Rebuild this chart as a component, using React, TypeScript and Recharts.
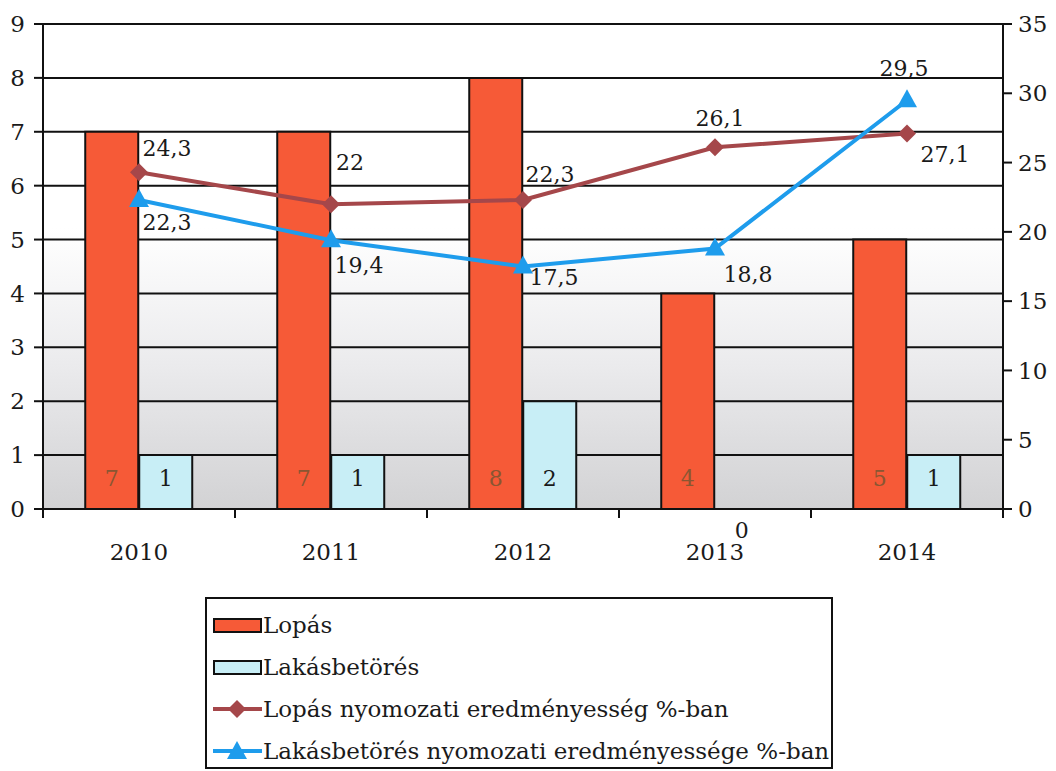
import {
  Bar,
  CartesianGrid,
  ComposedChart,
  LabelList,
  Legend,
  Line,
  XAxis,
  YAxis,
} from 'recharts';

const years = ['2010', '2011', '2012', '2013', '2014'];
const lopas = [7, 7, 8, 4, 5];
const lakasbetores = [1, 1, 2, 0, 1];
const lopasPct = [24.3, 22, 22.3, 26.1, 27.1];
const lakasPct = [22.3, 19.4, 17.5, 18.8, 29.5];
const leftTicks = [0, 1, 2, 3, 4, 5, 6, 7, 8, 9];
const rightTicks = [0, 5, 10, 15, 20, 25, 30, 35];

// label offsets (dx, dy) from each point, like the excel layout
const lopasPctOffsets = [
  [28, -24],
  [19, -42],
  [27, -25],
  [5, -29],
  [38, 21],
];
const lakasPctOffsets = [
  [28, 23],
  [28, 25],
  [31, 11],
  [33, 26],
  [-3, -32],
];

const data = years.map((year, i) => ({
  year,
  lopas: lopas[i],
  lakasbetores: lakasbetores[i],
  lopasPct: lopasPct[i],
  lakasPct: lakasPct[i],
}));

const font = '"DejaVu Serif", "Liberation Serif", serif';
const red = '#F65A37';
const cyan = '#C8EEF6';
const darkRed = '#A5474A';
const blue = '#1E9CEC';

const fmt = (v: any) => String(v).replace('.', ',');

const Diamond = (props: any) => {
  const { cx, cy, fill } = props;
  if (cx == null || cy == null) return null;
  const r = 9;
  return (
    <path
      d={`M${cx},${cy - r}L${cx + r},${cy}L${cx},${cy + r}L${cx - r},${cy}Z`}
      fill={fill ?? darkRed}
    />
  );
};

const Triangle = (props: any) => {
  const { cx, cy, fill } = props;
  if (cx == null || cy == null) return null;
  return (
    <path
      d={`M${cx},${cy - 11}L${cx + 10},${cy + 7}L${cx - 10},${cy + 7}Z`}
      fill={fill ?? blue}
    />
  );
};

const lineLabel = (offsets: number[][]) => (props: any) => {
  const { x, y, value, index } = props;
  const [dx, dy] = offsets[index] ?? [0, -20];
  return (
    <text
      x={x + dx}
      y={y + dy}
      textAnchor="middle"
      dominantBaseline="central"
      fontFamily={font}
      fontSize={22}
      fill="#1a1a1a"
    >
      {fmt(value)}
    </text>
  );
};

const labelText = (x: number, y: number, value: any, color: string) => (
  <text
    x={x}
    y={y}
    textAnchor="middle"
    dominantBaseline="central"
    fontFamily={font}
    fontSize={22}
    fill={color}
  >
    {value}
  </text>
);

// lopás labels; a zero-height lakásbetörés bar gets no rect, so its "0" is drawn here
const lopasLabel = (props: any) => {
  const { x, y, width, height, value, index } = props;
  const other = lakasbetores[index];
  return (
    <g>
      {labelText(x + width / 2, y + height - 31, value, '#8a5632')}
      {other === 0 && labelText(x + width * 1.5 + 1, y + height + 21, other, '#1a1a1a')}
    </g>
  );
};

const lakasLabel = (props: any) => {
  const { x, y, width, height, value } = props;
  if (!height) return null;
  return labelText(x + width / 2, y + height - 31, value, '#1a1a1a');
};

const XTick = (props: any) => {
  const { x, y, payload, index } = props;
  const half = payload?.offset || 96;
  return (
    <g>
      <line x1={x - half} y1={y} x2={x - half} y2={y + 9} stroke="#111" strokeWidth={2} />
      {index === years.length - 1 && (
        <line x1={x + half} y1={y} x2={x + half} y2={y + 9} stroke="#111" strokeWidth={2} />
      )}
      <text
        x={x}
        y={y + 43}
        textAnchor="middle"
        dominantBaseline="central"
        fontFamily={font}
        fontSize={23}
        fill="#1a1a1a"
      >
        {payload.value}
      </text>
    </g>
  );
};

const legendItems = [
  { name: 'Lopás', type: 'bar', color: red },
  { name: 'Lakásbetörés', type: 'bar', color: cyan },
  { name: 'Lopás nyomozati eredményesség %-ban', type: 'diamond', color: darkRed },
  { name: 'Lakásbetörés nyomozati eredményessége %-ban', type: 'triangle', color: blue },
];

const LegendBox = () => (
  <div
    style={{
      boxSizing: 'border-box',
      width: 628,
      height: 172,
      border: '2px solid #111',
      background: '#fff',
      padding: '5px 0 0 5px',
      fontFamily: font,
      fontSize: 23,
      color: '#1a1a1a',
      whiteSpace: 'nowrap',
    }}
  >
    {legendItems.map((item) => (
      <div key={item.name} style={{ display: 'flex', alignItems: 'center', height: 42 }}>
        <svg width={50} height={24} style={{ marginRight: 1, flex: 'none' }}>
          {item.type === 'bar' ? (
            <rect x={2} y={6} width={47} height={13} fill={item.color} stroke="#111" strokeWidth={2} />
          ) : (
            <g>
              <line x1={1} y1={12} x2={50} y2={12} stroke={item.color} strokeWidth={4} />
              {item.type === 'diamond' ? (
                <Diamond cx={25} cy={12} fill={item.color} />
              ) : (
                <Triangle cx={25} cy={13} fill={item.color} />
              )}
            </g>
          )}
        </svg>
        <span>{item.name}</span>
      </div>
    ))}
  </div>
);

export default function App() {
  return (
    <div style={{ position: 'absolute', left: 0, top: 0, background: '#fff' }}>
      <ComposedChart
        width={1056}
        height={771}
        data={data}
        margin={{ top: 24, right: 0, left: 0, bottom: 30 }}
        barCategoryGap="22%"
        barGap={1}
      >
        <defs>
          <linearGradient id="plotBg" x1="0" y1="0" x2="0" y2="1">
            <stop offset="0" stopColor="#ffffff" />
            <stop offset="0.42" stopColor="#ffffff" />
            <stop offset="0.7" stopColor="#ebebed" />
            <stop offset="1" stopColor="#d2d2d4" />
          </linearGradient>
        </defs>
        <CartesianGrid
          yAxisId="left"
          vertical={false}
          stroke="#111"
          strokeWidth={2}
          fill="url(#plotBg)"
        />
        <XAxis
          dataKey="year"
          height={60}
          axisLine={{ stroke: '#111', strokeWidth: 2 }}
          tickLine={false}
          tickSize={0}
          tickMargin={0}
          tick={<XTick />}
          interval={0}
        />
        <YAxis
          yAxisId="left"
          width={43}
          domain={[0, 9]}
          ticks={leftTicks}
          interval={0}
          axisLine={{ stroke: '#111', strokeWidth: 2 }}
          tickLine={{ stroke: '#111', strokeWidth: 2 }}
          tickSize={9}
          tickMargin={9}
          tick={{ fill: '#1a1a1a', fontSize: 23, fontFamily: font }}
        />
        <YAxis
          yAxisId="right"
          orientation="right"
          width={53}
          domain={[0, 35]}
          ticks={rightTicks}
          interval={0}
          axisLine={{ stroke: '#111', strokeWidth: 2 }}
          tickLine={{ stroke: '#111', strokeWidth: 2 }}
          tickSize={9}
          tickMargin={6}
          tick={{ fill: '#1a1a1a', fontSize: 23, fontFamily: font }}
        />
        <Legend
          verticalAlign="bottom"
          align="center"
          layout="vertical"
          content={<LegendBox />}
          wrapperStyle={{ position: 'absolute', left: 205, top: 597, width: 628, height: 172 }}
        />
        <Bar
          yAxisId="left"
          dataKey="lopas"
          name="Lopás"
          fill={red}
          stroke="#111"
          strokeWidth={2}
          isAnimationActive={false}
        >
          <LabelList dataKey="lopas" content={lopasLabel} />
        </Bar>
        <Bar
          yAxisId="left"
          dataKey="lakasbetores"
          name="Lakásbetörés"
          fill={cyan}
          stroke="#111"
          strokeWidth={2}
          isAnimationActive={false}
        >
          <LabelList dataKey="lakasbetores" content={lakasLabel} />
        </Bar>
        <Line
          yAxisId="right"
          dataKey="lopasPct"
          name="Lopás nyomozati eredményesség %-ban"
          stroke={darkRed}
          strokeWidth={4}
          dot={(p: any) => <Diamond key={`d${p.index}`} cx={p.cx} cy={p.cy} />}
          isAnimationActive={false}
        >
          <LabelList dataKey="lopasPct" content={lineLabel(lopasPctOffsets)} />
        </Line>
        <Line
          yAxisId="right"
          dataKey="lakasPct"
          name="Lakásbetörés nyomozati eredményessége %-ban"
          stroke={blue}
          strokeWidth={4}
          dot={(p: any) => <Triangle key={`t${p.index}`} cx={p.cx} cy={p.cy} />}
          isAnimationActive={false}
        >
          <LabelList dataKey="lakasPct" content={lineLabel(lakasPctOffsets)} />
        </Line>
      </ComposedChart>
    </div>
  );
}
